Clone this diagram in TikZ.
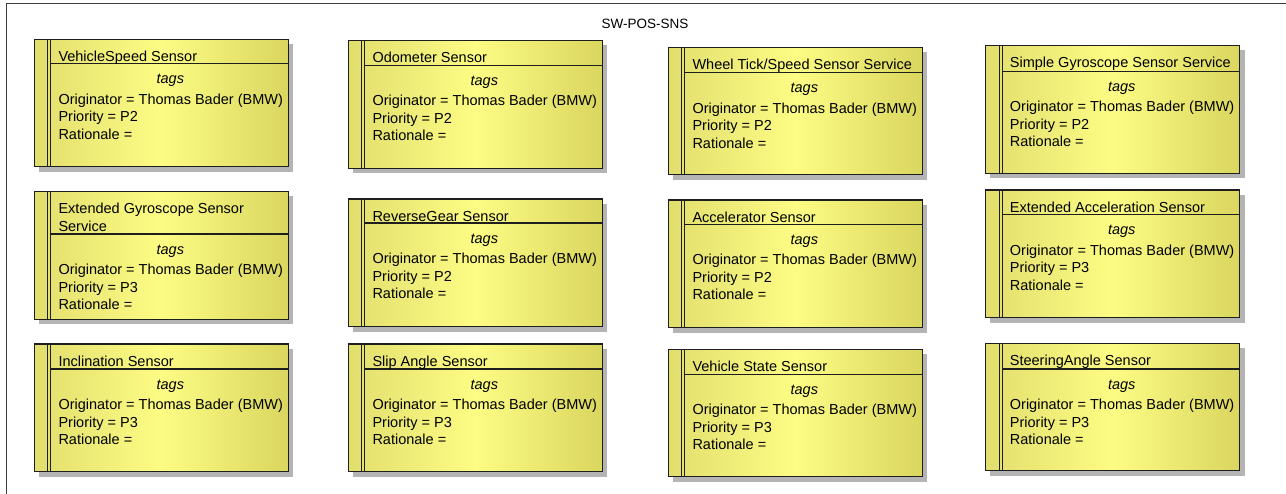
\documentclass[tikz,border=0pt]{standalone}
\usepackage{fontspec}
\setmainfont{Liberation Sans}
\usetikzlibrary{positioning}
\usetikzlibrary{calc}

\definecolor{boxleft}{HTML}{E2DE6E}
\definecolor{boxmid}{HTML}{FCFC84}
\definecolor{boxright}{HTML}{DAD660}
\definecolor{boxline}{HTML}{1E1E1E}
\definecolor{frameline}{HTML}{3C3C3C}
\definecolor{shadowgray}{HTML}{B4B4B4}

\begin{document}
\begin{tikzpicture}[x=1pt, y=-1pt]
    % \draw (0,0) grid (1286,493);
    \useasboundingbox (0,0) rectangle (1286,493);

    \def\boxw{254}
    \def\boxh{127.5}
  \tikzset{sensor body/.style={draw=boxline, line width=1.2pt, rectangle, anchor=north west, outer sep=0pt, inner sep=0pt, minimum width=\boxw pt, minimum height=\boxh pt, left color=boxleft, right color=boxright, middle color=boxmid}}
  \tikzset{drop fill/.style={fill=shadowgray}}
  \tikzset{bar line/.style={draw=boxline, line width=1.1pt}}
  \tikzset{box text/.style={anchor=base west, inner sep=0pt, font=\fontsize{14.5}{17.4}\selectfont}}
  \tikzset{frame line/.style={draw=frameline, line width=1.4pt}}

  % one element: name, x, y, title, priority, header height
  \def\sensor#1#2#3#4#5#6{%
    \node[sensor body] (#1) at (#2,#3) {};
    \fill[drop fill] ($(#1.north east)+(0.6,4.5)$) rectangle ($(#1.south east)+(5.1,5.1)$);
    \fill[drop fill] ($(#1.south west)+(4.5,0.6)$) rectangle ($(#1.south east)+(0.6,5.1)$);
    \draw[bar line] ($(#1.north west)+(13.4,0)$) -- ($(#1.south west)+(13.4,0)$);
    \draw[bar line] ($(#1.north west)+(16.4,0)$) -- ($(#1.south west)+(16.4,0)$);
    \draw[bar line] ($(#1.north west)+(16.4,#6)$) -- ($(#1.north east)+(0,#6)$);
    \node[box text] (#1 title) at ($(#1.north west)+(24,22)$) {#4};
    \node[box text, anchor=base] (#1 tags) at ($(#1.north west)+(136,#6+20)$) {\itshape tags};
    \node[box text] (#1 orig) at ($(#1.north west)+(24,#6+40.5)$) {Originator = Thomas Bader (BMW)};
    \node[box text] (#1 prio) at ($(#1.north west)+(24,#6+58)$) {Priority = #5};
    \node[box text] (#1 rat) at ($(#1.north west)+(24,#6+75.5)$) {Rationale =};
  }

  % package frame
  \coordinate (frame nw) at (6.7,3.3);
  \draw[frame line] (6.7,500) -- (frame nw) -- (1295,3.3);
  \node[anchor=base, inner sep=0pt, font=\fontsize{13.5}{16}\selectfont] (frame title) at (645,28) {SW-POS-SNS};

  % row 1
  \sensor{vss}{34.3}{39.3}{VehicleSpeed Sensor}{P2}{24.3}
  \sensor{odo}{348.3}{40.7}{Odometer Sensor}{P2}{24.6}
  \sensor{wts}{668.3}{47.3}{Wheel Tick/Speed Sensor Service}{P2}{25.4}
  \sensor{sgs}{985.7}{45.7}{Simple Gyroscope Sensor Service}{P2}{25.6}
  %
  % row 2
  \sensor{egs}{34.3}{191.7}{Extended Gyroscope Sensor}{P3}{42.3}
  \node[box text] (egs title2) at ($(egs.north west)+(24,39.4)$) {Service};
  \sensor{rgs}{348.3}{199}{ReverseGear Sensor}{P2}{24}
  \sensor{acc}{668.3}{200}{Accelerator Sensor}{P2}{24.3}
  \sensor{eas}{985.7}{190}{Extended Acceleration Sensor}{P3}{24.7}
  %
  % row 3
  \sensor{inc}{34.3}{344}{Inclination Sensor}{P3}{25}
  \sensor{sas}{348.3}{344}{Slip Angle Sensor}{P3}{25}
  \sensor{vst}{668.3}{349.3}{Vehicle State Sensor}{P3}{25}
  \sensor{sta}{985.7}{343.3}{SteeringAngle Sensor}{P3}{25.7}
\end{tikzpicture}
\end{document}
